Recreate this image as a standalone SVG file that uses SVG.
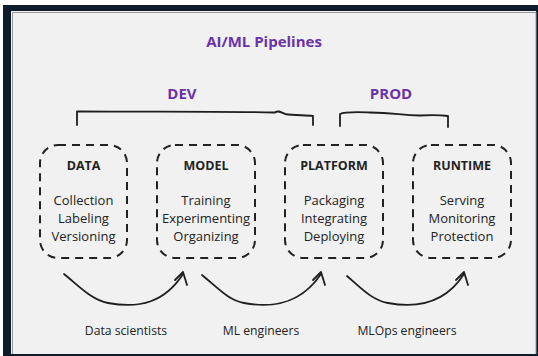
<svg xmlns="http://www.w3.org/2000/svg" width="538" height="356" viewBox="0 0 538 356">
<defs>
<style>
.t{font-family:"Open Sans","Noto Sans","Liberation Sans",sans-serif;fill:#222;}
.hd{font-family:"Open Sans","Noto Sans","Liberation Sans",sans-serif;font-weight:bold;fill:#6a33a8;text-anchor:middle;}
.nt{font-size:12.5px;font-weight:bold;text-anchor:middle;}
.it{font-size:13px;text-anchor:middle;}
.lb{font-size:12.2px;text-anchor:middle;}
.box{fill:none;stroke:#222;stroke-width:2;stroke-dasharray:8 6;}
.ln{fill:none;stroke:#1e1e1e;stroke-width:1.8;stroke-linecap:round;stroke-linejoin:round;}
</style>
</defs>
<rect x="0" y="0" width="538" height="356" fill="#ffffff"/>
<rect x="3" y="5" width="535" height="351" fill="#0d1b2a"/>
<rect x="11" y="11" width="525" height="343" fill="#f1f1f1"/>
<path d="M12.5 354V12.5H536" fill="none" stroke="#9a9a9a" stroke-width="1"/>
<line x1="536" y1="12" x2="536" y2="354" stroke="#9a9a9a" stroke-width="1"/>

<text class="hd" x="264" y="47" font-size="15">AI/ML Pipelines</text>
<text class="hd" x="182" y="99" font-size="15">DEV</text>
<text class="hd" x="391" y="99" font-size="15">PROD</text>

<g id="brackets">
<path class="ln" d="M77 125V111.5C140 112 200 111 275 112.5C278 110 281 112 285 114C295 115.5 305 115 313 116V125"/>
<path class="ln" d="M340 126V114C345 111.5 355 112 370 112.5C395 113 400 115 420 115.5C432 115 440 115 448 116V127"/>
</g>

<g id="data">
<rect class="box" x="40" y="145" width="87" height="113" rx="18"/>
<text class="t nt" x="83.5" y="170">DATA</text>
<text class="t it" x="83.5" y="205">Collection</text>
<text class="t it" x="83.5" y="223">Labeling</text>
<text class="t it" x="83.5" y="241">Versioning</text>
</g>
<g id="model">
<rect class="box" x="157" y="145" width="98" height="113" rx="18"/>
<text class="t nt" x="206" y="170">MODEL</text>
<text class="t it" x="206" y="205">Training</text>
<text class="t it" x="206" y="223">Experimenting</text>
<text class="t it" x="206" y="241">Organizing</text>
</g>
<g id="platform">
<rect class="box" x="285" y="145" width="98" height="113" rx="18"/>
<text class="t nt" x="334" y="170">PLATFORM</text>
<text class="t it" x="334" y="205">Packaging</text>
<text class="t it" x="334" y="223">Integrating</text>
<text class="t it" x="334" y="241">Deploying</text>
</g>
<g id="runtime">
<rect class="box" x="413" y="145" width="98" height="113" rx="18"/>
<text class="t nt" x="462" y="170">RUNTIME</text>
<text class="t it" x="462" y="205">Serving</text>
<text class="t it" x="462" y="223">Monitoring</text>
<text class="t it" x="462" y="241">Protection</text>
</g>

<g id="connectors">
<path class="ln" d="M64 274C80 287 92 300 108 303C140 309 165 302 183 274"/>
<path class="ln" d="M175 280L183 272L187 285"/>
<path class="ln" d="M202 275C218 288 228 300 244 303C276 309 302 302 321 274"/>
<path class="ln" d="M313 280L321 272L325 285"/>
<path class="ln" d="M347 276C362 289 372 300 388 303C420 309 446 302 464 274"/>
<path class="ln" d="M456 280L464 272L468 285"/>
</g>

<text class="t lb" x="126" y="335">Data scientists</text>
<text class="t lb" x="261" y="335">ML engineers</text>
<text class="t lb" x="407" y="335">MLOps engineers</text>
</svg>
